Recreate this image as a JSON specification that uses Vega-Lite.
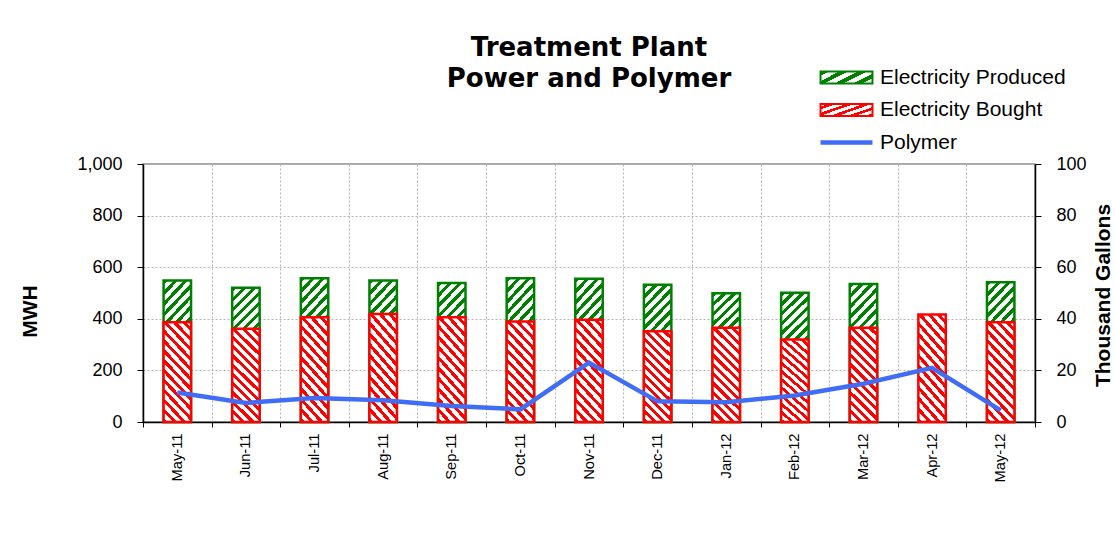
{
  "$schema": "https://vega.github.io/schema/vega-lite/v6.json",
  "width": 892,
  "height": 258,
  "autosize": "none",
  "padding": {"left": 143, "top": 164, "right": 80, "bottom": 124},
  "background": "white",
  "title": {
    "text": ["Treatment Plant", "Power and Polymer"],
    "font": "DejaVu Sans",
    "fontSize": 26,
    "fontWeight": "bold",
    "color": "#000000",
    "anchor": "middle",
    "frame": "group",
    "baseline": "alphabetic",
    "offset": -46,
    "lineHeight": 31
  },
  "datasets": {
    "power": [
      {"month": "May-11", "bought": 387, "total": 548},
      {"month": "Jun-11", "bought": 361, "total": 520},
      {"month": "Jul-11", "bought": 406, "total": 557},
      {"month": "Aug-11", "bought": 419, "total": 548},
      {"month": "Sep-11", "bought": 406, "total": 539},
      {"month": "Oct-11", "bought": 390, "total": 557},
      {"month": "Nov-11", "bought": 396, "total": 555},
      {"month": "Dec-11", "bought": 352, "total": 532},
      {"month": "Jan-12", "bought": 365, "total": 499},
      {"month": "Feb-12", "bought": 320, "total": 501},
      {"month": "Mar-12", "bought": 365, "total": 535},
      {"month": "Apr-12", "bought": 417, "total": 417},
      {"month": "May-12", "bought": 387, "total": 542}
    ],
    "polymer": [
      {"month": "May-11", "gallons": 11.4},
      {"month": "Jun-11", "gallons": 7.4},
      {"month": "Jul-11", "gallons": 9.3},
      {"month": "Aug-11", "gallons": 8.4},
      {"month": "Sep-11", "gallons": 6.2},
      {"month": "Oct-11", "gallons": 4.9},
      {"month": "Nov-11", "gallons": 23.0},
      {"month": "Dec-11", "gallons": 8.0},
      {"month": "Jan-12", "gallons": 7.7},
      {"month": "Feb-12", "gallons": 10.3},
      {"month": "Mar-12", "gallons": 14.8},
      {"month": "Apr-12", "gallons": 21.0},
      {"month": "May-12", "gallons": 4.5}
    ]
  },
  "encoding": {
    "x": {
      "field": "month",
      "type": "ordinal",
      "sort": ["May-11", "Jun-11", "Jul-11", "Aug-11", "Sep-11", "Oct-11", "Nov-11", "Dec-11", "Jan-12", "Feb-12", "Mar-12", "Apr-12", "May-12"],
      "scale": {"paddingInner": 0, "paddingOuter": 0},
      "axis": {
        "title": null,
        "labelAngle": -90,
        "labelAlign": "right",
        "labelBaseline": "middle",
        "labelFontSize": 14.7,
        "labelColor": "#000000",
        "labelPadding": 6,
        "tickBand": "extent",
        "tickSize": 5,
        "tickColor": "#000000",
        "domainColor": "#000000",
        "domainWidth": 1.5,
        "grid": true,
        "gridColor": "#b4b4b4",
        "gridDash": [2, 2]
      }
    }
  },
  "layer": [
    {
      "data": {"name": "power"},
      "layer": [
        {
          "transform": [{"filter": "datum.total > datum.bought"}],
          "mark": {
            "type": "bar",
            "strokeWidth": 2.5,
            "width": {"band": 0.4},
            "fill": {"id": "hatchBarGreen2", "gradient": "linear", "x1": 0, "y1": 0, "x2": 0.24, "y2": 1.157, "stops": [
              {"offset": 0, "color": "#008000"}, {"offset": 0.0281, "color": "#008000"}, {"offset": 0.0281, "color": "#ffffff"}, {"offset": 0.0625, "color": "#ffffff"},
              {"offset": 0.0625, "color": "#008000"}, {"offset": 0.0906, "color": "#008000"}, {"offset": 0.0906, "color": "#ffffff"}, {"offset": 0.125, "color": "#ffffff"},
              {"offset": 0.125, "color": "#008000"}, {"offset": 0.1531, "color": "#008000"}, {"offset": 0.1531, "color": "#ffffff"}, {"offset": 0.1875, "color": "#ffffff"},
              {"offset": 0.1875, "color": "#008000"}, {"offset": 0.2156, "color": "#008000"}, {"offset": 0.2156, "color": "#ffffff"}, {"offset": 0.25, "color": "#ffffff"},
              {"offset": 0.25, "color": "#008000"}, {"offset": 0.2781, "color": "#008000"}, {"offset": 0.2781, "color": "#ffffff"}, {"offset": 0.3125, "color": "#ffffff"},
              {"offset": 0.3125, "color": "#008000"}, {"offset": 0.3406, "color": "#008000"}, {"offset": 0.3406, "color": "#ffffff"}, {"offset": 0.375, "color": "#ffffff"},
              {"offset": 0.375, "color": "#008000"}, {"offset": 0.4031, "color": "#008000"}, {"offset": 0.4031, "color": "#ffffff"}, {"offset": 0.4375, "color": "#ffffff"},
              {"offset": 0.4375, "color": "#008000"}, {"offset": 0.4656, "color": "#008000"}, {"offset": 0.4656, "color": "#ffffff"}, {"offset": 0.5, "color": "#ffffff"},
              {"offset": 0.5, "color": "#008000"}, {"offset": 0.5281, "color": "#008000"}, {"offset": 0.5281, "color": "#ffffff"}, {"offset": 0.5625, "color": "#ffffff"},
              {"offset": 0.5625, "color": "#008000"}, {"offset": 0.5906, "color": "#008000"}, {"offset": 0.5906, "color": "#ffffff"}, {"offset": 0.625, "color": "#ffffff"},
              {"offset": 0.625, "color": "#008000"}, {"offset": 0.6531, "color": "#008000"}, {"offset": 0.6531, "color": "#ffffff"}, {"offset": 0.6875, "color": "#ffffff"},
              {"offset": 0.6875, "color": "#008000"}, {"offset": 0.7156, "color": "#008000"}, {"offset": 0.7156, "color": "#ffffff"}, {"offset": 0.75, "color": "#ffffff"},
              {"offset": 0.75, "color": "#008000"}, {"offset": 0.7781, "color": "#008000"}, {"offset": 0.7781, "color": "#ffffff"}, {"offset": 0.8125, "color": "#ffffff"},
              {"offset": 0.8125, "color": "#008000"}, {"offset": 0.8406, "color": "#008000"}, {"offset": 0.8406, "color": "#ffffff"}, {"offset": 0.875, "color": "#ffffff"},
              {"offset": 0.875, "color": "#008000"}, {"offset": 0.9031, "color": "#008000"}, {"offset": 0.9031, "color": "#ffffff"}, {"offset": 0.9375, "color": "#ffffff"},
              {"offset": 0.9375, "color": "#008000"}, {"offset": 0.9656, "color": "#008000"}, {"offset": 0.9656, "color": "#ffffff"}, {"offset": 1, "color": "#ffffff"}
            ]}
          },
          "encoding": {
            "y": {
              "field": "total",
              "type": "quantitative",
              "scale": {"domain": [0, 1000]},
              "axis": {
                "title": "MWH",
                "values": [0, 200, 400, 600, 800, 1000],
                "format": ",.0f",
                "labelFontSize": 18,
                "labelColor": "#000000",
                "labelPadding": 15,
                "tickSize": 6,
                "tickColor": "#000000",
                "domainColor": "#000000",
                "domainWidth": 1.5,
                "grid": true,
                "gridColor": "#b4b4b4",
                "gridDash": [2, 2],
                "titleFontSize": 21,
                "titleFontWeight": "bold",
                "titleColor": "#000000",
                "titleX": -113,
                "titleY": 147,
                "titleAngle": 270,
                "titleAlign": "center",
                "titleBaseline": "middle"
              }
            },
            "stroke": {
              "datum": "Electricity Produced",
              "type": "nominal",
              "scale": {"domain": ["Electricity Produced"], "range": ["#008000"]},
              "legend": {
                "title": null,
                "orient": "none",
                "legendX": 677,
                "legendY": -97,
                "padding": 0,
                "symbolType": "M-4.33,-1H4.33V1H-4.33Z",
                "symbolSize": 144,
                "symbolStrokeWidth": 2,
                "symbolOffset": 16,
                "labelOffset": 23,
                "labelFontSize": 21,
                "labelColor": "#000000",
                "labelLimit": 400,
                "encode": {
                  "symbols": {
                    "opacity": {"value": 1},
                    "fill": {"value": {"id": "hatchLegendGreen", "gradient": "linear", "x1": 0, "y1": 0, "x2": 1.169, "y2": 0.27, "stops": [
                      {"offset": 0, "color": "#008000"}, {"offset": 0.0643, "color": "#008000"}, {"offset": 0.0643, "color": "#ffffff"}, {"offset": 0.1429, "color": "#ffffff"},
                      {"offset": 0.1429, "color": "#008000"}, {"offset": 0.2071, "color": "#008000"}, {"offset": 0.2071, "color": "#ffffff"}, {"offset": 0.2857, "color": "#ffffff"},
                      {"offset": 0.2857, "color": "#008000"}, {"offset": 0.35, "color": "#008000"}, {"offset": 0.35, "color": "#ffffff"}, {"offset": 0.4286, "color": "#ffffff"},
                      {"offset": 0.4286, "color": "#008000"}, {"offset": 0.4929, "color": "#008000"}, {"offset": 0.4929, "color": "#ffffff"}, {"offset": 0.5714, "color": "#ffffff"},
                      {"offset": 0.5714, "color": "#008000"}, {"offset": 0.6357, "color": "#008000"}, {"offset": 0.6357, "color": "#ffffff"}, {"offset": 0.7143, "color": "#ffffff"},
                      {"offset": 0.7143, "color": "#008000"}, {"offset": 0.7786, "color": "#008000"}, {"offset": 0.7786, "color": "#ffffff"}, {"offset": 0.8571, "color": "#ffffff"},
                      {"offset": 0.8571, "color": "#008000"}, {"offset": 0.9214, "color": "#008000"}, {"offset": 0.9214, "color": "#ffffff"}, {"offset": 1, "color": "#ffffff"}
                    ]}}
                  }
                }
              }
            }
          }
        },
        {
          "mark": {
            "type": "bar",
            "strokeWidth": 2.5,
            "width": {"band": 0.4},
            "fill": {"id": "hatchBarRed", "gradient": "linear", "x1": 0, "y1": 1, "x2": 0.345, "y2": -0.19, "stops": [
              {"offset": 0, "color": "#ff0000"}, {"offset": 0.0346, "color": "#ff0000"}, {"offset": 0.0346, "color": "#ffffff"}, {"offset": 0.0769, "color": "#ffffff"},
              {"offset": 0.0769, "color": "#ff0000"}, {"offset": 0.1115, "color": "#ff0000"}, {"offset": 0.1115, "color": "#ffffff"}, {"offset": 0.1538, "color": "#ffffff"},
              {"offset": 0.1538, "color": "#ff0000"}, {"offset": 0.1885, "color": "#ff0000"}, {"offset": 0.1885, "color": "#ffffff"}, {"offset": 0.2308, "color": "#ffffff"},
              {"offset": 0.2308, "color": "#ff0000"}, {"offset": 0.2654, "color": "#ff0000"}, {"offset": 0.2654, "color": "#ffffff"}, {"offset": 0.3077, "color": "#ffffff"},
              {"offset": 0.3077, "color": "#ff0000"}, {"offset": 0.3423, "color": "#ff0000"}, {"offset": 0.3423, "color": "#ffffff"}, {"offset": 0.3846, "color": "#ffffff"},
              {"offset": 0.3846, "color": "#ff0000"}, {"offset": 0.4192, "color": "#ff0000"}, {"offset": 0.4192, "color": "#ffffff"}, {"offset": 0.4615, "color": "#ffffff"},
              {"offset": 0.4615, "color": "#ff0000"}, {"offset": 0.4962, "color": "#ff0000"}, {"offset": 0.4962, "color": "#ffffff"}, {"offset": 0.5385, "color": "#ffffff"},
              {"offset": 0.5385, "color": "#ff0000"}, {"offset": 0.5731, "color": "#ff0000"}, {"offset": 0.5731, "color": "#ffffff"}, {"offset": 0.6154, "color": "#ffffff"},
              {"offset": 0.6154, "color": "#ff0000"}, {"offset": 0.65, "color": "#ff0000"}, {"offset": 0.65, "color": "#ffffff"}, {"offset": 0.6923, "color": "#ffffff"},
              {"offset": 0.6923, "color": "#ff0000"}, {"offset": 0.7269, "color": "#ff0000"}, {"offset": 0.7269, "color": "#ffffff"}, {"offset": 0.7692, "color": "#ffffff"},
              {"offset": 0.7692, "color": "#ff0000"}, {"offset": 0.8038, "color": "#ff0000"}, {"offset": 0.8038, "color": "#ffffff"}, {"offset": 0.8462, "color": "#ffffff"},
              {"offset": 0.8462, "color": "#ff0000"}, {"offset": 0.8808, "color": "#ff0000"}, {"offset": 0.8808, "color": "#ffffff"}, {"offset": 0.9231, "color": "#ffffff"},
              {"offset": 0.9231, "color": "#ff0000"}, {"offset": 0.9577, "color": "#ff0000"}, {"offset": 0.9577, "color": "#ffffff"}, {"offset": 1, "color": "#ffffff"}
            ]}
          },
          "encoding": {
            "y": {
              "field": "bought",
              "type": "quantitative",
              "scale": {"domain": [0, 1000]},
              "axis": {
                "title": "MWH",
                "values": [0, 200, 400, 600, 800, 1000],
                "format": ",.0f",
                "labelFontSize": 18,
                "labelColor": "#000000",
                "labelPadding": 15,
                "tickSize": 6,
                "tickColor": "#000000",
                "domainColor": "#000000",
                "domainWidth": 1.5,
                "grid": true,
                "gridColor": "#b4b4b4",
                "gridDash": [2, 2],
                "titleFontSize": 21,
                "titleFontWeight": "bold",
                "titleColor": "#000000",
                "titleX": -113,
                "titleY": 147,
                "titleAngle": 270,
                "titleAlign": "center",
                "titleBaseline": "middle"
              }
            },
            "stroke": {
              "datum": "Electricity Bought",
              "type": "nominal",
              "scale": {"domain": ["Electricity Bought"], "range": ["#ff0000"]},
              "legend": {
                "title": null,
                "orient": "none",
                "legendX": 677,
                "legendY": -64.5,
                "padding": 0,
                "symbolType": "M-4.33,-1H4.33V1H-4.33Z",
                "symbolSize": 144,
                "symbolStrokeWidth": 2,
                "symbolOffset": 16,
                "labelOffset": 23,
                "labelFontSize": 21,
                "labelColor": "#000000",
                "labelLimit": 400,
                "encode": {
                  "symbols": {
                    "opacity": {"value": 1},
                    "fill": {"value": {"id": "hatchLegendRed", "gradient": "linear", "x1": 0, "y1": 1, "x2": 1.169, "y2": 0.73, "stops": [
                      {"offset": 0, "color": "#ff0000"}, {"offset": 0.0643, "color": "#ff0000"}, {"offset": 0.0643, "color": "#ffffff"}, {"offset": 0.1429, "color": "#ffffff"},
                      {"offset": 0.1429, "color": "#ff0000"}, {"offset": 0.2071, "color": "#ff0000"}, {"offset": 0.2071, "color": "#ffffff"}, {"offset": 0.2857, "color": "#ffffff"},
                      {"offset": 0.2857, "color": "#ff0000"}, {"offset": 0.35, "color": "#ff0000"}, {"offset": 0.35, "color": "#ffffff"}, {"offset": 0.4286, "color": "#ffffff"},
                      {"offset": 0.4286, "color": "#ff0000"}, {"offset": 0.4929, "color": "#ff0000"}, {"offset": 0.4929, "color": "#ffffff"}, {"offset": 0.5714, "color": "#ffffff"},
                      {"offset": 0.5714, "color": "#ff0000"}, {"offset": 0.6357, "color": "#ff0000"}, {"offset": 0.6357, "color": "#ffffff"}, {"offset": 0.7143, "color": "#ffffff"},
                      {"offset": 0.7143, "color": "#ff0000"}, {"offset": 0.7786, "color": "#ff0000"}, {"offset": 0.7786, "color": "#ffffff"}, {"offset": 0.8571, "color": "#ffffff"},
                      {"offset": 0.8571, "color": "#ff0000"}, {"offset": 0.9214, "color": "#ff0000"}, {"offset": 0.9214, "color": "#ffffff"}, {"offset": 1, "color": "#ffffff"}
                    ]}}
                  }
                }
              }
            }
          }
        }
      ],
      "resolve": {"scale": {"stroke": "independent"}, "legend": {"stroke": "independent"}}
    },
    {
      "data": {"name": "polymer"},
      "mark": {"type": "line", "strokeWidth": 4.5},
      "encoding": {
        "y": {
          "field": "gallons",
          "type": "quantitative",
          "scale": {"domain": [0, 100]},
          "axis": {
            "orient": "right",
            "title": "Thousand Gallons",
            "values": [0, 20, 40, 60, 80, 100],
            "labelFontSize": 18,
            "labelColor": "#000000",
            "labelPadding": 15,
            "tickSize": 6,
            "tickColor": "#000000",
            "domainColor": "#000000",
            "domainWidth": 1.5,
            "grid": false,
            "titleFontSize": 21,
            "titleFontWeight": "bold",
            "titleColor": "#000000",
            "titleX": 68,
            "titleY": 131,
            "titleAngle": 270,
            "titleAlign": "center",
            "titleBaseline": "middle"
          }
        },
        "color": {
          "datum": "Polymer",
          "type": "nominal",
          "scale": {"domain": ["Polymer"], "range": ["#3f6df5"]},
          "legend": {
            "title": null,
            "orient": "none",
            "legendX": 677,
            "legendY": -32,
            "padding": 0,
            "symbolType": "M-4.33,0H4.33",
            "symbolSize": 144,
            "symbolStrokeWidth": 4.5,
            "symbolOffset": 16,
            "labelOffset": 23,
            "labelFontSize": 21,
            "labelColor": "#000000",
            "labelLimit": 400
          }
        }
      }
    }
  ],
  "resolve": {"scale": {"y": "independent"}},
  "config": {
    "font": "Liberation Sans",
    "view": {"stroke": "#8c8c8c", "strokeWidth": 1.5}
  }
}
